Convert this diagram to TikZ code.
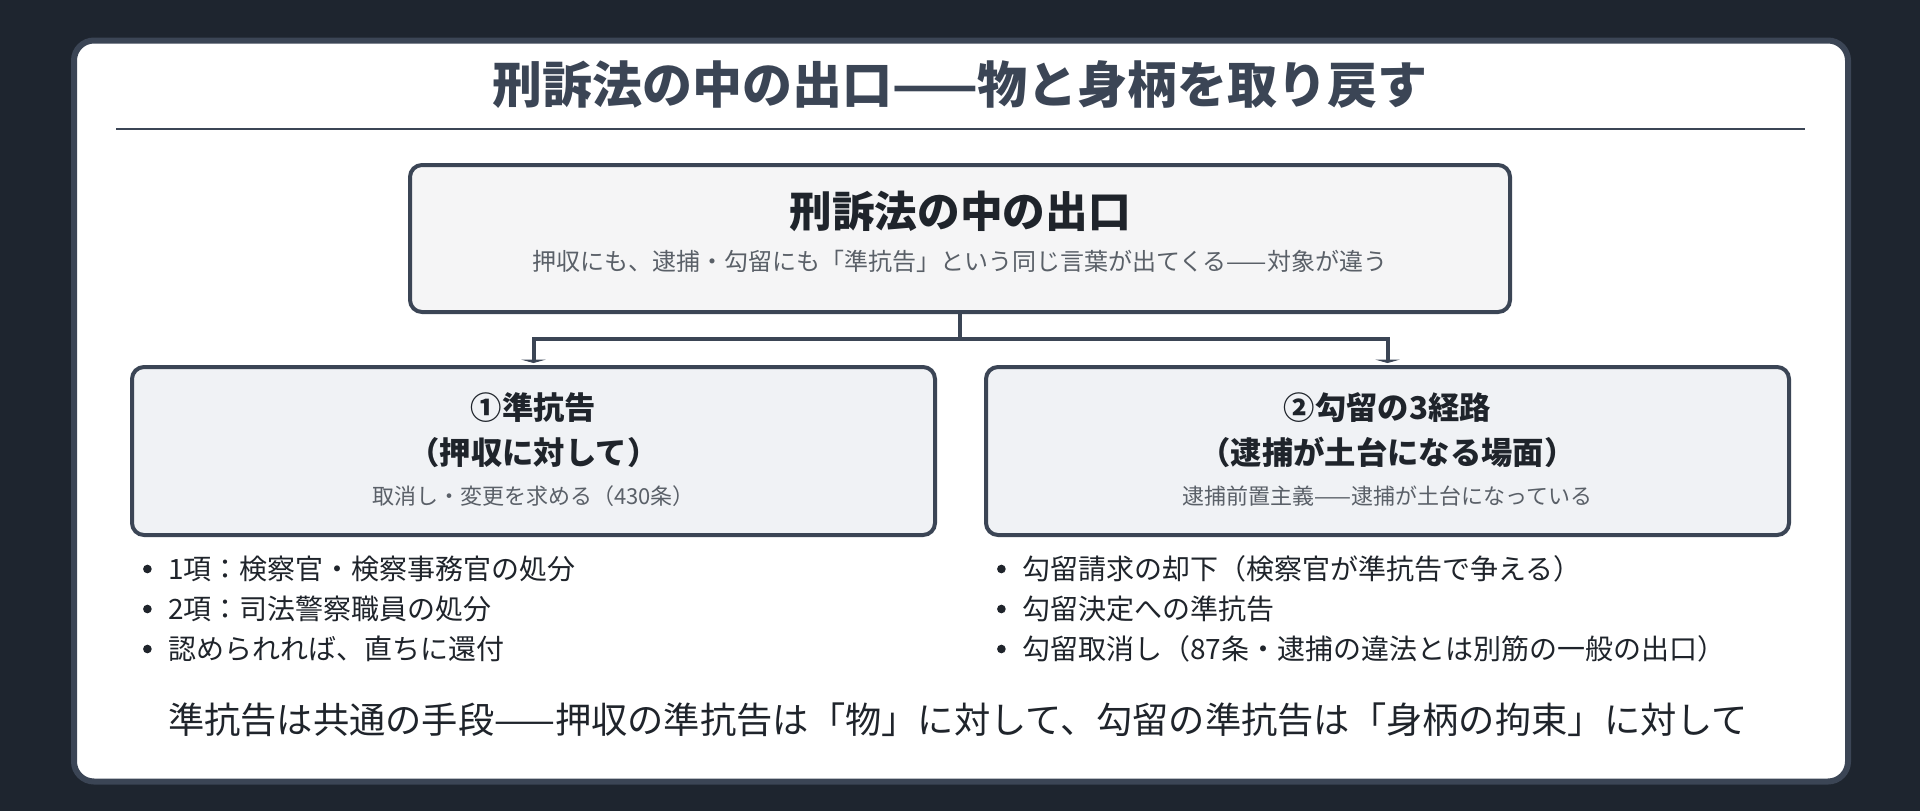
\documentclass[tikz,border=0pt]{standalone}
\usepackage{fontspec}
\setmainfont{Noto Sans CJK JP}
\usepackage{tikz}
\usetikzlibrary{arrows.meta}
\definecolor{night}{HTML}{1E252F}
\definecolor{slate}{HTML}{3B4555}
\definecolor{ink}{HTML}{1F242B}
\definecolor{mute}{HTML}{5A6068}
\definecolor{topfill}{HTML}{F5F5F6}
\definecolor{subfill}{HTML}{F0F2F5}
\tikzstyle{panel} = [
    rectangle,
    draw = slate,
    fill = white,
    line width = 4.5pt,
    rounded corners = 15pt,
    minimum width = 1330.5pt,
    minimum height = 555.75pt
]
\tikzstyle{topbox} = [
    rectangle,
    draw = slate,
    fill = topfill,
    line width = 3pt,
    rounded corners = 9pt,
    minimum width = 825pt,
    minimum height = 110.25pt
]
\tikzstyle{subbox} = [
    rectangle,
    draw = slate,
    fill = subfill,
    line width = 3pt,
    rounded corners = 9pt,
    minimum width = 602.25pt,
    minimum height = 126pt
]
\tikzstyle{heading} = [text = slate, font = \fontsize{37.5}{45}\selectfont\bfseries]
\tikzstyle{boxhead} = [text = ink, font = \fontsize{32}{38}\selectfont\bfseries]
\tikzstyle{branchhead} = [text = ink, align = center, font = \fontsize{23.5}{33.75}\selectfont\bfseries]
\tikzstyle{boxnote} = [text = mute, font = \fontsize{18}{22}\selectfont]
\tikzstyle{branchnote} = [text = mute, font = \fontsize{16.5}{20}\selectfont]
\tikzstyle{dot} = [circle, fill = ink, inner sep = 0pt, minimum size = 6.5pt]
\tikzstyle{item} = [
    text = ink,
    anchor = west,
    inner sep = 0pt,
    font = \fontsize{21}{25}\selectfont,
    label = {[dot, xshift = -12pt]left:{}}
]
\tikzstyle{summary} = [text = ink, font = \fontsize{27.2}{32}\selectfont]
\tikzstyle{link} = [
    draw = slate,
    line width = 3pt,
    shorten > = 1.5pt,
    -{Triangle[length = 2.5pt, width = 18pt]}
]

\begin{document}
\begin{tikzpicture}[x = 0.75pt, y = -0.75pt]
    \useasboundingbox (0,0) rectangle (1920,811);
    \fill[night] (0,0) rectangle (1920,811);
    \node[panel] (frame) at (961,411) {};

    % title and rule
    \node[heading] (title) at (960,85) {刑訴法の中の出口——物と身柄を取り戻す};
    \draw[slate, line width = 2pt] (116,129) coordinate (ruleL) -- (1805,129) coordinate (ruleR);

    % boxes
    \node[topbox] (top) at (960,238.5) {};
    \node[subbox] (left) at (533.5,451) {};
    \node[subbox] (right) at (1387.5,451) {};

    \coordinate (split) at (960,339);
    \draw[slate, line width = 3pt] (top.south) -- (split);
    \draw[link] (split) -| (left.north);
    \draw[link] (split) -| (right.north);

    % texts in the boxes
    \node[boxhead] (topHead) at (960,211) {刑訴法の中の出口};
    \node[boxnote] (topNote) at (960,261) {押収にも、逮捕・勾留にも「準抗告」という同じ言葉が出てくる——対象が違う};

    \node[branchhead] (leftHead) at (533.5,430.5) {①準抗告\\（押収に対して）};
    \node[branchnote] (leftNote) at (533.5,496) {取消し・変更を求める（430条）};
    \node[branchhead] (rightHead) at (1387.5,430.5) {②勾留の3経路\\（逮捕が土台になる場面）};
    \node[branchnote] (rightNote) at (1387.5,496) {逮捕前置主義——逮捕が土台になっている};

    % lists
    \node[item] (l1) at (168,569) {1項：検察官・検察事務官の処分};
    \node[item] (l2) at (168,609) {2項：司法警察職員の処分};
    \node[item] (l3) at (168,649) {認められれば、直ちに還付};
    \node[item] (r1) at (1022,569) {勾留請求の却下（検察官が準抗告で争える）};
    \node[item] (r2) at (1022,609) {勾留決定への準抗告};
    \node[item] (r3) at (1022,649) {勾留取消し（87条・逮捕の違法とは別筋の一般の出口）};

    \node[summary] (sum) at (958,720) {準抗告は共通の手段——押収の準抗告は「物」に対して、勾留の準抗告は「身柄の拘束」に対して};
\end{tikzpicture}
\end{document}
